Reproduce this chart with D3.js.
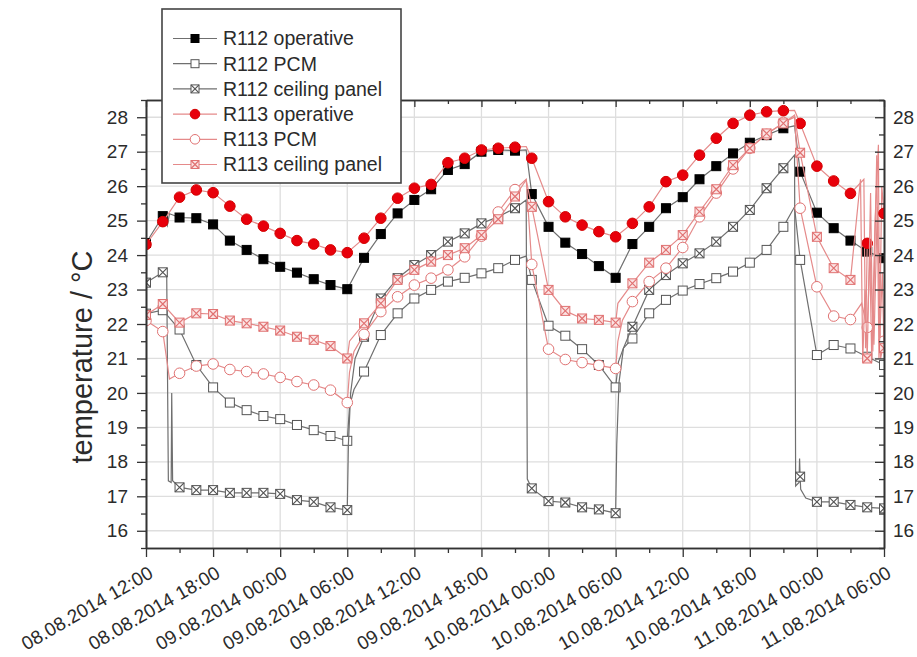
<!DOCTYPE html>
<html>
<head>
<meta charset="utf-8">
<script src="https://cdn.jsdelivr.net/npm/d3@7"></script>
<style>
   body { margin: 0; background: #fff; }
   svg { display: block; }
   text { font-family: "Liberation Sans", Arial, sans-serif; fill: #2b2b2b; }
</style>
</head>
<body>
<svg id="chart" width="917" height="657"></svg>
<script>

// SAMPLE TIMES OF THE SYMBOLS (HOURS AFTER 08.08.2014 12:00)
var sampleHours = [0, 1.5, 3, 4.5, 6, 7.5, 9, 10.5, 12, 13.5, 15, 16.5, 18, 19.5, 21, 22.5,
   24, 25.5, 27, 28.5, 30, 31.5, 33, 34.5, 36, 37.5, 39, 40.5, 42, 43.5, 45, 46.5,
   48, 49.5, 51, 52.5, 54, 55.5, 57, 58.5, 60, 61.5, 63, 64.5, 66]

// SYMBOL VALUES PER SERIES
var op112 = [24.35, 25.13, 25.09, 25.07, 24.89, 24.42, 24.15, 23.88, 23.66, 23.49, 23.30, 23.13, 23.01,
   23.92, 24.61, 25.21, 25.60, 25.91, 26.47, 26.64, 27.00, 27.05, 27.03, 25.77, 24.82, 24.36, 24.03, 23.68, 23.34,
   24.32, 24.82, 25.36, 25.68, 26.20, 26.58, 26.95, 27.26, 27.48, 27.68, 26.42, 25.23, 24.78, 24.42, 24.10, 23.91]
var pcm112 = [22.30, 22.40, 21.84, 20.81, 20.16, 19.72, 19.50, 19.33, 19.24, 19.07, 18.92, 18.75, 18.61,
   20.62, 21.68, 22.31, 22.74, 22.99, 23.23, 23.34, 23.47, 23.62, 23.86, 23.28, 21.95, 21.66, 21.27, 20.81, 20.16,
   21.58, 22.31, 22.70, 22.97, 23.16, 23.33, 23.52, 23.78, 24.15, 24.82, 23.86, 21.10, 21.39, 21.29, 21.05, 20.81]
var ceil112 = [23.20, 23.50, 17.26, 17.18, 17.18, 17.10, 17.10, 17.10, 17.07, 16.89, 16.84, 16.68, 16.60,
   21.63, 22.74, 23.33, 23.71, 24.00, 24.39, 24.63, 24.92, 25.11, 25.36, 17.23, 16.86, 16.82, 16.68, 16.62, 16.51,
   21.92, 22.99, 23.42, 23.76, 24.05, 24.39, 24.82, 25.31, 25.94, 26.52, 17.57, 16.84, 16.84, 16.75, 16.68, 16.65]
var op113 = [24.31, 24.97, 25.68, 25.89, 25.81, 25.42, 25.04, 24.84, 24.63, 24.42, 24.32, 24.15, 24.07,
   24.49, 25.07, 25.65, 25.94, 26.05, 26.68, 26.81, 27.05, 27.10, 27.13, 26.81, 25.55, 25.11, 24.87, 24.68, 24.53,
   24.92, 25.40, 26.13, 26.32, 26.90, 27.39, 27.82, 28.06, 28.16, 28.19, 27.82, 26.58, 26.15, 25.79, 24.34, 25.21]
var pcm113 = [22.10, 21.78, 20.57, 20.78, 20.84, 20.68, 20.62, 20.55, 20.45, 20.33, 20.23, 20.08, 19.72,
   21.70, 22.36, 22.79, 23.13, 23.33, 23.57, 23.95, 24.55, 25.25, 25.90, 23.73, 21.27, 20.97, 20.88, 20.80, 20.71,
   22.65, 23.23, 23.62, 24.22, 25.11, 25.80, 26.50, 27.10, 27.50, 27.85, 25.36, 23.08, 22.23, 22.13, 21.90, 21.50]
var ceil113 = [22.26, 22.58, 22.04, 22.31, 22.29, 22.10, 22.02, 21.92, 21.81, 21.63, 21.54, 21.36, 21.00,
   22.02, 22.60, 23.28, 23.57, 23.81, 24.00, 24.20, 24.58, 25.04, 25.70, 25.40, 22.99, 22.38, 22.16, 22.12, 22.04,
   23.18, 23.78, 24.15, 24.58, 25.26, 25.91, 26.61, 27.10, 27.53, 27.82, 26.97, 24.53, 23.62, 23.28, 21.00, 21.30]

// LINE-ONLY POINTS BETWEEN SYMBOLS [HOUR, VALUE]
var op112Extra = [[1.9, 24.85], [2.1, 25.2], [34.0, 27.05], [58.0, 27.75]]
var pcm112Extra = [[18.2, 19.6], [18.6, 20.1], [34.0, 23.97], [42.25, 20.9], [42.7, 21.3], [58.0, 25.4]]
var ceil112Extra = [[1.85, 23.55], [2.0, 17.45], [2.25, 17.4], [2.3, 20.0], [2.38, 17.45], [18.1, 18.5],
   [18.3, 20.0], [18.7, 21.0], [34.0, 25.6], [34.1, 17.5], [42.1, 18.5], [42.3, 20.3], [42.7, 21.3],
   [58.0, 26.9], [58.1, 17.3], [58.4, 17.4], [58.45, 18.1], [58.55, 17.2], [59.0, 16.95]]
var op113Extra = [[1.9, 25.15], [34.0, 27.15], [58.0, 28.2], [64.2, 26.2], [64.35, 21.3], [64.7, 24.5],
   [64.9, 21.0], [65.2, 25.0], [65.5, 27.2], [65.6, 21.5], [65.8, 26.0]]
var pcm113Extra = [[2.1, 20.4], [18.2, 20.6], [18.6, 21.2], [34.0, 26.2], [42.2, 21.5], [42.6, 22.1],
   [58.0, 28.0], [64.0, 22.6], [64.75, 24.0], [65.1, 21.4], [65.4, 25.4], [65.7, 21.0]]
var ceil113Extra = [[18.2, 21.5], [34.0, 26.18], [42.2, 22.6], [58.0, 28.06], [63.9, 26.2], [64.1, 20.9],
   [64.3, 23.0], [64.8, 25.8], [65.0, 21.2], [65.35, 26.9], [65.55, 21.0], [65.85, 23.5]]

// AXIS TICKS
var xTickHours = [0, 6, 12, 18, 24, 30, 36, 42, 48, 54, 60, 66]
var xMinorHours = [3, 9, 15, 21, 27, 33, 39, 45, 51, 57, 63]
var yTicks = [16, 17, 18, 19, 20, 21, 22, 23, 24, 25, 26, 27, 28]
var yMinor = [15.5, 16.5, 17.5, 18.5, 19.5, 20.5, 21.5, 22.5, 23.5, 24.5, 25.5, 26.5, 27.5, 28.5]
var startTime = new Date(2014, 7, 8, 12, 0)

// SERIES TABLE
var series = [
   { name: 'R112 operative', values: op112, extra: op112Extra, line: '#6f6f6f', symbol: 'square', fill: '#000', stroke: '#000' },
   { name: 'R112 PCM', values: pcm112, extra: pcm112Extra, line: '#6f6f6f', symbol: 'square', fill: '#fff', stroke: '#555' },
   { name: 'R112 ceiling panel', values: ceil112, extra: ceil112Extra, line: '#6f6f6f', symbol: 'crossSquare', fill: '#fff', stroke: '#555' },
   { name: 'R113 operative', values: op113, extra: op113Extra, line: '#e58a8a', symbol: 'circle', fill: '#e8000b', stroke: '#d40000' },
   { name: 'R113 PCM', values: pcm113, extra: pcm113Extra, line: '#e58a8a', symbol: 'circle', fill: '#fff', stroke: '#e07272' },
   { name: 'R113 ceiling panel', values: ceil113, extra: ceil113Extra, line: '#e58a8a', symbol: 'crossSquare', fill: '#fbe3e3', stroke: '#e07272' }
]

var settings = { left: 146, right: 884, top: 100, bottom: 548, axis: '#333', grid: '#dedede', symbol: 9 }

function hourToDate(h) { return new Date(startTime.getTime() + h * 3600000) }

// SCALES
var xScale = d3.scaleTime()
   .domain([hourToDate(0), hourToDate(66)])
   .range([settings.left, settings.right])

var yScale = d3.scaleLinear()
   .domain([15.5, 28.5])
   .range([settings.bottom, settings.top])

var svg = d3.select('#chart')

// GRID
var grid = svg.append('g')
grid.selectAll('.gx').data(xTickHours.slice(1, -1)).enter().append('line')
   .attr('x1', (d) => xScale(hourToDate(d))).attr('x2', (d) => xScale(hourToDate(d)))
   .attr('y1', settings.top).attr('y2', settings.bottom)
   .attr('stroke', settings.grid).attr('stroke-width', 1.3)
grid.selectAll('.gy').data(yTicks).enter().append('line')
   .attr('x1', settings.left).attr('x2', settings.right)
   .attr('y1', (d) => yScale(d)).attr('y2', (d) => yScale(d))
   .attr('stroke', settings.grid).attr('stroke-width', 1.3)

// CLIP
svg.append('clipPath').attr('id', 'plotclip').append('rect')
   .attr('x', settings.left).attr('y', settings.top)
   .attr('width', settings.right - settings.left).attr('height', settings.bottom - settings.top)

// SYMBOL DRAWER
function drawSymbol(sel, s, size) {
   var h = size / 2
   if (s.symbol === 'circle') {
      sel.append('circle').attr('r', h + 0.8).attr('fill', s.fill).attr('stroke', s.stroke).attr('stroke-width', 1)
   } else if (s.symbol === 'square') {
      sel.append('rect').attr('x', -h).attr('y', -h).attr('width', size).attr('height', size)
         .attr('fill', s.fill).attr('stroke', s.stroke).attr('stroke-width', 1)
   } else {
      sel.append('rect').attr('x', -h).attr('y', -h).attr('width', size).attr('height', size)
         .attr('fill', s.fill).attr('stroke', s.stroke).attr('stroke-width', 1)
      sel.append('path').attr('d', 'M' + (-h) + ',' + (-h) + 'L' + h + ',' + h + 'M' + h + ',' + (-h) + 'L' + (-h) + ',' + h)
         .attr('stroke', s.stroke).attr('stroke-width', 1.2)
   }
}

// LINES + SYMBOLS
var plot = svg.append('g').attr('clip-path', 'url(#plotclip)')
var pathify = d3.line()
   .x((d) => xScale(hourToDate(d[0])))
   .y((d) => yScale(d[1]))

series.forEach((s) => {
   var pts = sampleHours.map((h, i) => [h, s.values[i]]).concat(s.extra)
   pts.sort((a, b) => a[0] - b[0])
   plot.append('path')
      .attr('fill', 'none')
      .attr('stroke', s.line)
      .attr('stroke-width', 1.2)
      .attr('d', pathify(pts))
   plot.selectAll(null)
      .data(sampleHours.map((h, i) => [h, s.values[i]]))
      .enter().append('g')
         .attr('transform', (d) => 'translate(' + xScale(hourToDate(d[0])) + ',' + yScale(d[1]) + ')')
         .each(function () { drawSymbol(d3.select(this), s, settings.symbol) })
})

// AXES
var fmt = d3.timeFormat('%d.%m.%Y %H:%M')

var bottomAxis = svg.append('g').attr('transform', 'translate(0,' + settings.bottom + ')')
   .call(d3.axisBottom(xScale).tickValues(xTickHours.map(hourToDate)).tickSize(9).tickSizeOuter(0).tickFormat(''))
bottomAxis.append('g').call(d3.axisBottom(xScale).tickValues(xMinorHours.map(hourToDate)).tickSize(5).tickSizeOuter(0).tickFormat(''))

var topAxis = svg.append('g').attr('transform', 'translate(0,' + settings.top + ')')
   .call(d3.axisTop(xScale).tickValues(xTickHours.map(hourToDate)).tickSize(-7).tickSizeOuter(0).tickFormat(''))
topAxis.append('g').call(d3.axisTop(xScale).tickValues(xMinorHours.map(hourToDate)).tickSize(-4).tickSizeOuter(0).tickFormat(''))

var leftAxis = svg.append('g').attr('transform', 'translate(' + settings.left + ',0)')
   .call(d3.axisLeft(yScale).tickValues(yTicks).tickSize(9).tickSizeOuter(0).tickPadding(9).tickFormat(d3.format('d')))
leftAxis.append('g').call(d3.axisLeft(yScale).tickValues(yMinor).tickSize(5).tickSizeOuter(0).tickFormat(''))

var rightAxis = svg.append('g').attr('transform', 'translate(' + settings.right + ',0)')
   .call(d3.axisRight(yScale).tickValues(yTicks).tickSizeInner(-9).tickSizeOuter(0).tickPadding(9).tickFormat(d3.format('d')))
rightAxis.append('g').call(d3.axisRight(yScale).tickValues(yMinor).tickSizeInner(-5).tickSizeOuter(0).tickFormat(''))

svg.selectAll('.domain').attr('stroke', settings.axis).attr('stroke-width', 1.6)
svg.selectAll('.tick line').attr('stroke', settings.axis).attr('stroke-width', 1.3)
svg.selectAll('.tick text').attr('font-size', 19).attr('fill', '#2b2b2b')
   .style('font-family', '"Liberation Sans", Arial, sans-serif')

// ROTATED X LABELS
svg.append('g').selectAll('text')
   .data(xTickHours)
   .enter().append('text')
      .attr('transform', (d) => 'translate(' + (xScale(hourToDate(d)) + 5) + ',571) rotate(-30)')
      .attr('text-anchor', 'end')
      .attr('dy', '0.35em')
      .attr('font-size', 19)
      .text((d) => fmt(hourToDate(d)))

// Y AXIS TITLE
svg.append('text')
   .attr('transform', 'translate(92,357) rotate(-90)')
   .attr('text-anchor', 'middle')
   .attr('font-size', 29)
   .text('temperature / °C')

// LEGEND
var legend = svg.append('g')
legend.append('rect')
   .attr('x', 162).attr('y', 9).attr('width', 239).attr('height', 174)
   .attr('fill', '#fff').attr('stroke', '#444').attr('stroke-width', 1.6)

var items = legend.selectAll('.item')
   .data(series)
   .enter().append('g')
      .attr('transform', (d, i) => 'translate(0,' + (38.5 + i * 25.2) + ')')

items.append('line')
   .attr('x1', 173).attr('x2', 217)
   .attr('stroke', (d) => d.line).attr('stroke-width', 1.2)
items.append('g')
   .attr('transform', 'translate(195,0)')
   .each(function (d) { drawSymbol(d3.select(this), d, 8) })
items.append('text')
   .attr('x', 223).attr('dy', '0.35em')
   .attr('font-size', 19.5)
   .text((d) => d.name)

</script>
</body>
</html>
